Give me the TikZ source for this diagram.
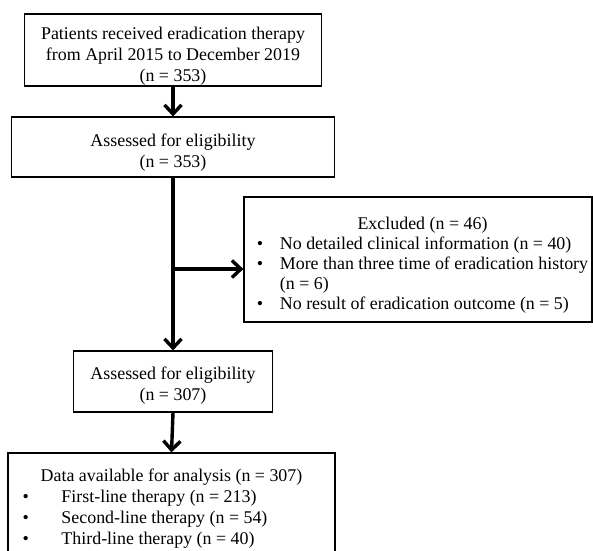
\documentclass[tikz,border=0pt]{standalone}
\usepackage{fontspec}
\setmainfont{Liberation Serif}
\usetikzlibrary{arrows.meta}
\newcommand{\enhaut}[1]{\rule{0pt}{#1}}

\begin{document}
\begin{tikzpicture}[x=1pt,y=-1pt,
  boite/.style={draw, line width=1.2pt, inner sep=0pt, align=center,
    font=\fontsize{17.9}{21}\selectfont},
  fleche/.style={line width=3.4pt,
    -{Straight Barb[length=9pt,width=17pt]}}]
\useasboundingbox (0,0) rectangle (593,550);
\clip (0,0) rectangle (593,550);

% Boites principales
\node[boite, minimum width=297pt, minimum height=72pt] (patients) at (173,50)
  {\enhaut{24pt}Patients received eradication therapy\\from April 2015 to December 2019\\(n = 353)};
\node[boite, minimum width=323pt, minimum height=60pt] (assessA) at (173,147)
  {\enhaut{23pt}Assessed for eligibility\\(n = 353)};
\node[boite, minimum width=199pt, minimum height=61pt] (assessB) at (173,381.5)
  {\enhaut{21pt}Assessed for eligibility\\(n = 307)};

% Exclus
\node[boite, minimum width=348pt, minimum height=125pt,
  font=\fontsize{17.9}{20}\selectfont] (excluded) at (418,259.5)
  {\hspace*{9pt}\begin{tabular}{@{}p{23pt}@{}l@{}}
   \multicolumn{2}{c}{\enhaut{25pt}Excluded (n = 46)}\\
   \textbullet & No detailed clinical information (n = 40)\\
   \textbullet & More than three time of eradication history\\
               & (n = 6)\\
   \textbullet & No result of eradication outcome (n = 5)
   \end{tabular}};

% Donnees (coupee en bas)
\node[boite, minimum width=327pt, minimum height=120pt] (data) at (171.5,513)
  {\begin{tabular}{@{}p{39pt}@{}p{259pt}@{}}
   \multicolumn{2}{c}{Data available for analysis (n = 307)}\\
   \textbullet & First-line therapy (n = 213)\\
   \textbullet & Second-line therapy (n = 54)\\
   \textbullet & Third-line therapy (n = 40)\\[8pt]
   \end{tabular}};

% Fleches
\coordinate (branch) at (173,269);
\draw[fleche] (patients.south) -- (assessA.north);
\draw[fleche] (assessA.south) -- (assessB.north);
\draw[fleche] (branch) -- (branch -| excluded.west);
\draw[fleche] (assessB.south) -- (data.north);
\end{tikzpicture}
\end{document}
